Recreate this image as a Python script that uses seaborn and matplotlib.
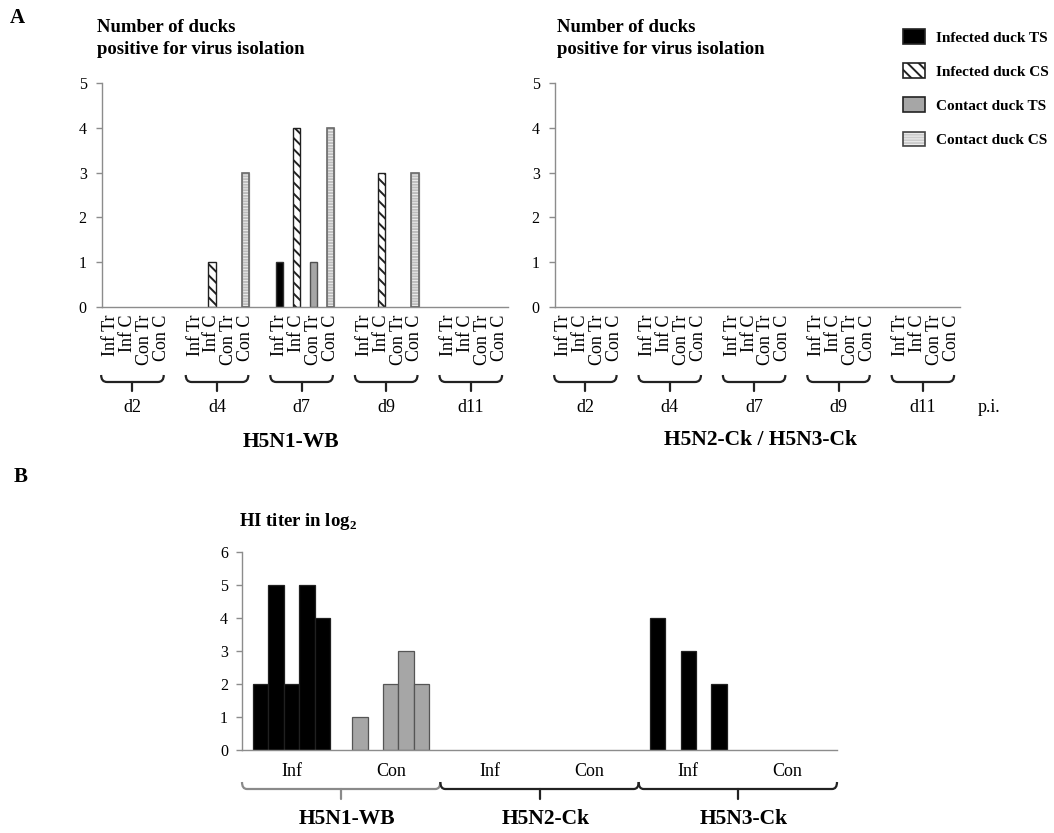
import numpy as np
import pandas as pd
import matplotlib
matplotlib.use("Agg")
import matplotlib.pyplot as plt
import seaborn as sns
from matplotlib.patches import Patch, Rectangle, PathPatch
from matplotlib.path import Path
from matplotlib.transforms import blended_transform_factory
from matplotlib.legend_handler import HandlerTuple

# ---------------- data ----------------
days = ["d2", "d4", "d7", "d9", "d11"]
sample_labels = ["Inf Tr", "Inf C", "Con Tr", "Con C"]
series_names = ["Infected duck TS", "Infected duck CS", "Contact duck TS", "Contact duck CS"]
# number of positive ducks per day, order: Inf Tr, Inf C, Con Tr, Con C
h5n1_d2 = [0, 0, 0, 0]
h5n1_d4 = [0, 1, 0, 3]
h5n1_d7 = [1, 4, 1, 4]
h5n1_d9 = [0, 3, 0, 3]
h5n1_d11 = [0, 0, 0, 0]
ck_d2 = [0, 0, 0, 0]
ck_d4 = [0, 0, 0, 0]
ck_d7 = [0, 0, 0, 0]
ck_d9 = [0, 0, 0, 0]
ck_d11 = [0, 0, 0, 0]

strains = ["H5N1-WB", "H5N2-Ck", "H5N3-Ck"]
duck_groups = ["Inf", "Con"]
hi_h5n1_inf = [2, 5, 2, 5, 4]
hi_h5n1_con = [1, 0, 2, 3, 2]
hi_h5n2_inf = [0, 0, 0, 0, 0]
hi_h5n2_con = [0, 0, 0, 0, 0]
hi_h5n3_inf = [4, 0, 3, 0, 2]
hi_h5n3_con = [0, 0, 0, 0, 0]
duck_ids = [1, 2, 3, 4, 5]

# ---------------- style ----------------
sns.set_theme(style="white", rc={"text.color": "black", "axes.labelcolor": "black",
                                  "xtick.color": "black", "ytick.color": "black"})
plt.rcParams["font.family"] = ["Liberation Serif", "DejaVu Serif"]
plt.rcParams["mathtext.fontset"] = "custom"
plt.rcParams["mathtext.rm"] = "Liberation Serif"
plt.rcParams["mathtext.bf"] = "Liberation Serif:bold"
plt.rcParams["hatch.linewidth"] = 1.4

W, H = 1054, 833
fig = plt.figure(figsize=(W / 100, H / 100), dpi=100)

def fy(py):
    return 1 - py / H

def fx(px):
    return px / W

face = {"Infected duck TS": "black", "Infected duck CS": "white",
        "Contact duck TS": "#a6a6a6", "Contact duck CS": "#f4f4f4"}
hatches = {"Infected duck TS": None, "Infected duck CS": "\\\\\\",
           "Contact duck TS": None, "Contact duck CS": "------"}
edges = {"Infected duck TS": "#303030", "Infected duck CS": "#202020",
         "Contact duck TS": "#505050", "Contact duck CS": "#bdbdbd"}
SPINE = "#8c8c8c"

def brace(ax, x0, x1, xc, yt, yl, yb, r, color, lw=1.6):
    tr = blended_transform_factory(ax.transData, fig.transFigure)
    verts = [(x0, fy(yt)), (x0, fy(yl)), (x0 + r, fy(yl)), (x1 - r, fy(yl)),
             (x1, fy(yl)), (x1, fy(yt))]
    codes = [Path.MOVETO, Path.CURVE3, Path.CURVE3, Path.LINETO, Path.CURVE3, Path.CURVE3]
    ax.add_patch(PathPatch(Path(verts, codes), transform=tr, fill=False,
                           edgecolor=color, lw=lw, clip_on=False))
    ax.plot([xc, xc], [fy(yl), fy(yb)], transform=tr, color=color, lw=lw, clip_on=False)

def panel_a(rect, day_values):
    ax = fig.add_axes(rect)
    rows, slots, ticklabels = [], [], []
    for di, (day, vals) in enumerate(zip(days, day_values)):
        for k, lab in enumerate(sample_labels):
            name = f"{day} {lab}"
            slots.append(name)
            ticklabels.append(lab)
            rows.append({"slot": name, "series": series_names[k], "value": vals[k]})
        if di < len(days) - 1:
            slots.append(f"gap{di}")
            ticklabels.append("")
    df = pd.DataFrame(rows)
    sns.barplot(data=df, x="slot", y="value", hue="series", order=slots,
                hue_order=series_names, palette=face, dodge=False, width=0.42,
                saturation=1, edgecolor="#303030", linewidth=1.0, legend=False, ax=ax)
    for cont, s in zip(ax.containers, series_names):
        for bar in cont:
            if bar.get_height() == 0:
                bar.set_visible(False)
                continue
            bar.set_edgecolor(edges[s])
            if hatches[s]:
                bar.set_hatch(hatches[s])
            if s == "Contact duck CS":
                ax.add_patch(Rectangle(bar.get_xy(), bar.get_width(), bar.get_height(),
                                       fill=False, edgecolor="#6a6a6a", lw=1.2, zorder=3))
    return ax, slots, ticklabels

# Panel A geometry
ya0, ya1 = 307, 83
axA1, slots, tls = panel_a([fx(102), fy(ya0), fx(406), (ya0 - ya1) / H],
                           [h5n1_d2, h5n1_d4, h5n1_d7, h5n1_d9, h5n1_d11])
axA2, _, _ = panel_a([fx(555), fy(ya0), fx(405), (ya0 - ya1) / H],
                     [ck_d2, ck_d4, ck_d7, ck_d9, ck_d11])

for ax in (axA1, axA2):
    ax.set_xlim(-0.5, len(slots) - 0.5)
    ax.set_ylim(0, 5)
    ax.set_yticks(range(0, 6))
    ax.set_yticklabels([str(v) for v in range(0, 6)])
    ax.set_xticks(range(len(slots)))
    ax.set_xticklabels(tls, rotation=90, va="top", ha="center", fontsize=13)
    ax.tick_params(axis="x", length=0, pad=5.5)
    ax.tick_params(axis="y", length=4, width=1, color=SPINE, labelsize=11.5, pad=7, left=True)
    ax.set_xlabel("")
    ax.set_ylabel("")
    sns.despine(ax=ax)
    for sp in ("left", "bottom"):
        ax.spines[sp].set_color(SPINE)
        ax.spines[sp].set_linewidth(1.0)
    for gi, day in enumerate(days):
        base = gi * 5
        brace(ax, base - 0.55, base + 3.15, base + 1.3, 375, 382, 391, 0.35, "#222222")
        ax.text(base + 1.3, fy(408), day, transform=blended_transform_factory(ax.transData, fig.transFigure),
                ha="center", va="center", fontsize=13)

fig.text(fx(291), fy(442), "H5N1-WB", ha="center", va="center", fontsize=15.5, fontweight="bold")
fig.text(fx(760), fy(440), "H5N2-Ck / H5N3-Ck", ha="center", va="center", fontsize=15.5, fontweight="bold")
fig.text(fx(978), fy(408), "p.i.", ha="left", va="center", fontsize=13)
fig.text(fx(97), fy(19), "Number of ducks\npositive for virus isolation", ha="left", va="top",
         fontsize=13.5, fontweight="bold", linespacing=1.4)
fig.text(fx(557), fy(19), "Number of ducks\npositive for virus isolation", ha="left", va="top",
         fontsize=13.5, fontweight="bold", linespacing=1.4)
fig.text(fx(10), fy(18), "A", ha="left", va="center", fontsize=15, fontweight="bold")
fig.text(fx(14), fy(477), "B", ha="left", va="center", fontsize=15, fontweight="bold")

# Legend
handles = []
for s in series_names:
    if s == "Contact duck CS":
        handles.append((Patch(facecolor=face[s], edgecolor="#cccccc", hatch="------", lw=0),
                        Patch(fill=False, edgecolor="#444444", lw=1.2)))
    else:
        handles.append(Patch(facecolor=face[s], edgecolor="#222222", hatch=hatches[s], lw=1.2))
fig.legend(handles, series_names, loc="upper left", bbox_to_anchor=(fx(903), fy(29)),
           frameon=False, borderpad=0, borderaxespad=0, handlelength=1.45, handleheight=1.1,
           handletextpad=0.7, labelspacing=1.22,
           prop={"weight": "bold", "size": 11, "family": "Liberation Serif"},
           handler_map={tuple: HandlerTuple(ndivide=1, pad=0)})

# ---------------- Panel B ----------------
yb0, yb1 = 750, 552
axB = fig.add_axes([fx(242), fy(yb0), fx(595), (yb0 - yb1) / H])
hi_values = [hi_h5n1_inf, hi_h5n1_con, hi_h5n2_inf, hi_h5n2_con, hi_h5n3_inf, hi_h5n3_con]
group_keys, group_ticks, group_kind = [], [], []
rows = []
for si, st in enumerate(strains):
    for gi, g in enumerate(duck_groups):
        key = f"{st} {g}"
        group_keys.append(key)
        group_ticks.append(g)
        group_kind.append(g)
        for d, v in zip(duck_ids, hi_values[si * 2 + gi]):
            rows.append({"group": key, "duck": d, "value": v})
dfb = pd.DataFrame(rows)
sns.barplot(data=dfb, x="group", y="value", hue="duck", order=group_keys, hue_order=duck_ids,
            dodge=True, width=0.78, gap=0, saturation=1, palette=["black"] * 5,
            edgecolor="#404040", linewidth=0.9, legend=False, ax=axB)
kind_color = {"Inf": "black", "Con": "#a6a6a6"}
for cont in axB.containers:
    for bar in cont:
        if bar.get_height() == 0:
            bar.set_visible(False)
            continue
        gi = int(round(bar.get_x() + bar.get_width() / 2))
        bar.set_facecolor(kind_color[group_kind[gi]])
        bar.set_edgecolor("#202020" if group_kind[gi] == "Inf" else "#555555")

axB.set_xlim(-0.5, len(group_keys) - 0.5)
axB.set_ylim(0, 6)
axB.set_yticks(range(0, 7))
axB.set_yticklabels([str(v) for v in range(0, 7)])
axB.set_xticks(range(len(group_keys)))
axB.set_xticklabels(group_ticks, fontsize=13)
axB.tick_params(axis="x", length=0, pad=9)
axB.tick_params(axis="y", length=4, width=1, color=SPINE, labelsize=11.5, pad=6, left=True)
axB.set_xlabel("")
axB.set_ylabel("")
sns.despine(ax=axB)
for sp in ("left", "bottom"):
    axB.spines[sp].set_color(SPINE)
    axB.spines[sp].set_linewidth(1.0)

for si, st in enumerate(strains):
    c = "#8a8a8a" if si == 0 else "#222222"
    brace(axB, si * 2 - 0.5, si * 2 + 1.5, si * 2 + 0.5, 782, 789, 799, 0.05, c)
    axB.text(si * 2 + 0.5 + 0.06, fy(819), st, transform=blended_transform_factory(axB.transData, fig.transFigure),
             ha="center", va="center", fontsize=15.5, fontweight="bold")

fig.text(fx(239), fy(522), r"HI titer in log$_{\mathbf{2}}$", ha="left", va="center",
         fontsize=13.5, fontweight="bold")

fig.savefig("out.png", dpi=100)
